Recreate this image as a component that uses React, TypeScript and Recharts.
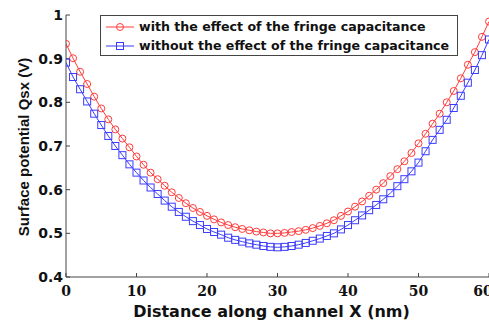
import React from "react";
import {LineChart, Line, XAxis, YAxis, Legend} from "recharts";

const distance = [
    0, 1, 2, 3, 4, 5, 6, 7, 8, 9, 10, 11, 12, 13, 14, 15, 16, 17, 18, 19, 20,
    21, 22, 23, 24, 25, 26, 27, 28, 29, 30, 31, 32, 33, 34, 35, 36, 37, 38, 39, 40,
    41, 42, 43, 44, 45, 46, 47, 48, 49, 50, 51, 52, 53, 54, 55, 56, 57, 58, 59, 60,
];

const withFringe = [
    0.934, 0.901, 0.870, 0.842, 0.813, 0.786, 0.761, 0.738, 0.717, 0.697, 0.676,
    0.657, 0.639, 0.624, 0.609, 0.594, 0.581, 0.569, 0.558, 0.549, 0.540,
    0.532, 0.525, 0.519, 0.514, 0.510, 0.507, 0.504, 0.502, 0.500, 0.500,
    0.501, 0.503, 0.505, 0.508, 0.512, 0.517, 0.523, 0.530, 0.540, 0.550,
    0.561, 0.573, 0.586, 0.600, 0.615, 0.631, 0.647, 0.665, 0.684, 0.706,
    0.728, 0.751, 0.774, 0.800, 0.826, 0.855, 0.886, 0.915, 0.950, 0.985,
];

const withoutFringe = [
    0.891, 0.858, 0.830, 0.802, 0.774, 0.748, 0.723, 0.700, 0.679, 0.658, 0.639,
    0.621, 0.605, 0.590, 0.575, 0.561, 0.549, 0.538, 0.528, 0.519, 0.510,
    0.503, 0.497, 0.490, 0.485, 0.481, 0.477, 0.474, 0.471, 0.469, 0.468,
    0.469, 0.471, 0.474, 0.478, 0.483, 0.488, 0.494, 0.500, 0.509, 0.519,
    0.530, 0.541, 0.553, 0.565, 0.578, 0.592, 0.608, 0.624, 0.642, 0.662,
    0.688, 0.714, 0.737, 0.760, 0.787, 0.815, 0.845, 0.874, 0.908, 0.944,
];

const xTicks = [0, 10, 20, 30, 40, 50, 60];
const yTicks = [0.4, 0.5, 0.6, 0.7, 0.8, 0.9, 1];

const seriesNames = [
    "with the effect of the fringe capacitance",
    "without the effect of the fringe capacitance",
];

const data = distance.map((x, i) => ({x, withFringe: withFringe[i], withoutFringe: withoutFringe[i]}));

const RED = "#ff3b3b";
const BLUE = "#3b3bff";
const AXIS = "#444";
const SANS = "'Liberation Sans', Arial, sans-serif";
const WIDE = "'DejaVu Sans', sans-serif";
const SERIF = "'DejaVu Serif', serif";

const CircleDot = (props: any) => {
    const {cx, cy, index} = props;
    return <circle key={`c-${index}`} cx={cx} cy={cy} r={3.5} stroke={RED} strokeWidth={1} fill="none" />;
};

const SquareDot = (props: any) => {
    const {cx, cy, index} = props;
    return <rect key={`s-${index}`} x={cx - 3.5} y={cy - 3.5} width={7} height={7} stroke={BLUE} strokeWidth={1} fill="none" />;
};

const renderLegend = () => (
    <div style={{
        width: 356, height: 39, border: `1px solid ${AXIS}`, background: "#fff",
        fontFamily: WIDE, fontWeight: "bold", fontSize: 12.6, color: "#111", whiteSpace: "nowrap",
    }}>
        {seriesNames.map((name, i) => (
            <div key={name} style={{display: "flex", alignItems: "center", height: 19, marginTop: i === 0 ? 1 : 0}}>
                <svg width={38} height={12} style={{flex: "none"}}>
                    <line x1={5} y1={6} x2={33} y2={6} stroke={i === 0 ? RED : BLUE} strokeWidth={1} />
                    {i === 0
                        ? <circle cx={19} cy={6} r={3.5} stroke={RED} fill="none" />
                        : <rect x={15.5} y={2.5} width={7} height={7} stroke={BLUE} fill="none" />}
                </svg>
                <span>{name}</span>
            </div>
        ))}
    </div>
);

export default function App() {
    return (
        <div style={{position: "absolute", left: 0, top: 0, width: 489, height: 321, background: "#fff", overflow: "hidden"}}>
            <LineChart width={490} height={321} data={data} margin={{top: 15, right: 1, bottom: 0, left: 0}}>
                <XAxis
                    dataKey="x" type="number" domain={[0, 60]} ticks={xTicks} allowDataOverflow
                    height={44} stroke={AXIS} tickSize={-4} tickMargin={13}
                    tick={{fill: "#111", fontFamily: SERIF, fontWeight: "bold", fontSize: 14}}
                    label={{
                        value: "Distance along channel X (nm)", position: "insideBottom", offset: 4, dx: -6,
                        style: {fill: "#111", fontFamily: WIDE, fontWeight: "bold", fontSize: 16},
                    }}
                />
                <XAxis
                    xAxisId="top" orientation="top" dataKey="x" type="number" domain={[0, 60]} ticks={xTicks}
                    height={0} stroke={AXIS} tickSize={-4} tick={false}
                />
                <YAxis
                    type="number" domain={[0.4, 1]} ticks={yTicks} allowDataOverflow
                    width={66} stroke={AXIS} tickSize={-4} tickMargin={7}
                    tick={{fill: "#111", fontFamily: WIDE, fontWeight: "bold", fontSize: 14}}
                    label={{
                        value: "Surface potential Qsx (V)", angle: -90, position: "center", dx: -9, dy: 1,
                        style: {fill: "#111", fontFamily: SANS, fontWeight: "bold", fontSize: 15},
                    }}
                />
                <YAxis
                    yAxisId="right" orientation="right" type="number" domain={[0.4, 1]} ticks={yTicks}
                    width={0} stroke={AXIS} tickSize={-4} tick={false}
                />
                <Legend
                    layout="horizontal" verticalAlign="middle" align="center"
                    content={renderLegend}
                    wrapperStyle={{position: "absolute", left: 100, top: 15, width: 358, height: 41}}
                />
                <Line
                    type="linear" dataKey="withFringe" stroke={RED} strokeWidth={1}
                    dot={CircleDot} activeDot={false} isAnimationActive={false}
                />
                <Line
                    type="linear" dataKey="withoutFringe" stroke={BLUE} strokeWidth={1}
                    dot={SquareDot} activeDot={false} isAnimationActive={false}
                />
            </LineChart>
        </div>
    );
}
